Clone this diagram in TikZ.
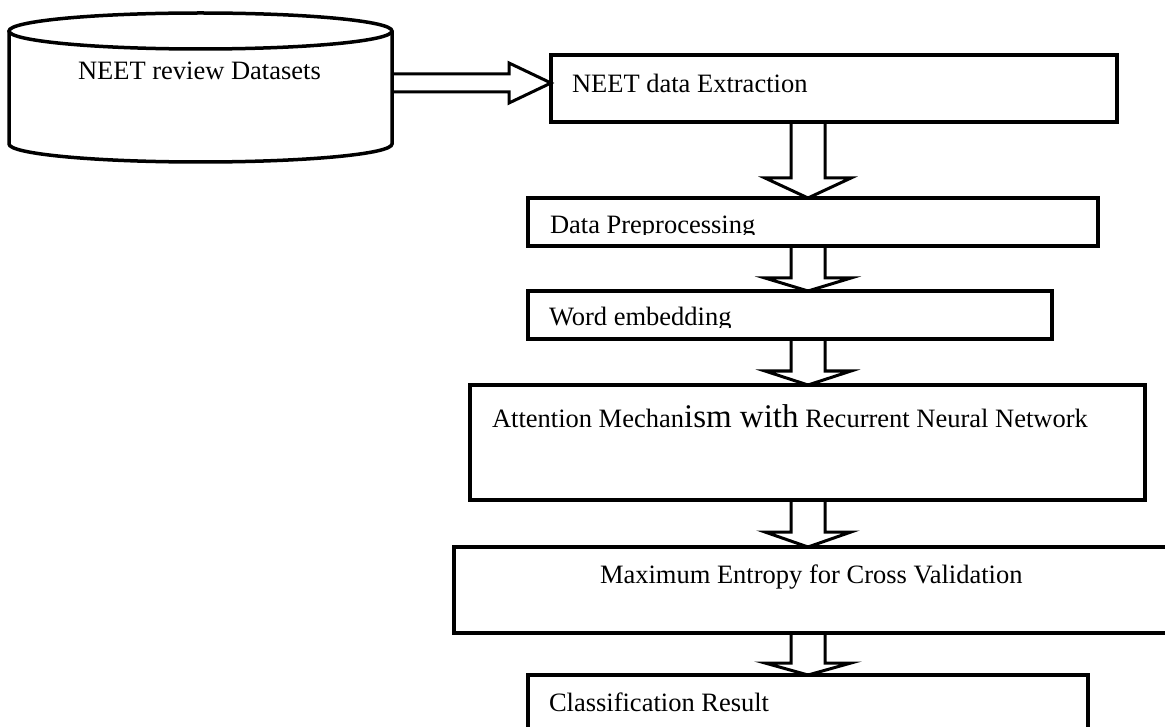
\documentclass[tikz,border=0pt]{standalone}
\usepackage{fontspec}
\setmainfont{Liberation Serif}
\usetikzlibrary{calc}
\tikzset{
  box/.style={draw, line width=3.5pt, inner sep=0pt, outer sep=0pt},
  cylline/.style={draw, line width=3.5pt},
  fatarr/.style={draw, line width=3pt, line join=miter},
  lbl/.style={anchor=base west, inner sep=0pt, outer sep=0pt, font=\fontsize{26.5}{30}\selectfont},
}
\newcommand\fatdown[3]{%
  \draw[fatarr] let \p1=(#1), \p2=(#2) in
    (\x1-17pt,\y1) -- (\x1-17pt,\y2+#3pt) -- (\x1-43pt,\y2+#3pt) -- (\x2,\y2)
    -- (\x1+43pt,\y2+#3pt) -- (\x1+17pt,\y2+#3pt) -- (\x1+17pt,\y1);}
\newcommand\fatright[3]{%
  \draw[fatarr] let \p1=(#1), \p2=(#2) in
    (\x1,\y1+9pt) -- (\x2-#3pt,\y1+9pt) -- (\x2-#3pt,\y1+20pt) -- (\x2,\y2)
    -- (\x2-#3pt,\y1-20pt) -- (\x2-#3pt,\y1-9pt) -- (\x1,\y1-9pt);}
\begin{document}
\begin{tikzpicture}[x=1pt,y=-1pt]
\clip (0,0) rectangle (1165,727);
\fill[white] (0,0) rectangle (1165,727);

% cylinder
\node[inner sep=0pt, outer sep=0pt, minimum width=383pt, minimum height=149pt] (cyl) at (200.5,87.5) {};
\draw[cylline] (9,31) -- (9,144) arc[start angle=180, end angle=360, x radius=191.5pt, y radius=18pt] -- (392,31);
\draw[cylline] (200.5,31) ellipse [x radius=191.5pt, y radius=18pt];
\node[lbl] (t0) at (78,80) {NEET review Datasets};

% boxes
\node[box, minimum width=566pt, minimum height=67pt] (b1) at (834,88.5) {};
\node[box, minimum width=570pt, minimum height=48pt] (b2) at (813,222) {};
\node[box, minimum width=524pt, minimum height=48pt] (b3) at (790,315) {};
\node[box, minimum width=675pt, minimum height=115pt] (b4) at (807.5,442.5) {};
\node[box, minimum width=731pt, minimum height=86pt] (b5) at (819.5,590) {};
\node[box, minimum width=560pt, minimum height=70pt] (b6) at (808,710) {};

% labels
\node[lbl] (t1) at (572,93) {NEET data Extraction};
\begin{scope}
  \clip (530,200) rectangle (1096,235);
  \node[lbl] (t2) at (550,233.5) {Data Preprocessing};
\end{scope}
\begin{scope}
  \clip (530,293) rectangle (1050,327.5);
  \node[lbl] (t3) at (549,326) {Word embedding};
\end{scope}
\node[lbl] (t4) at (492,427) {Attention Mechan{\fontsize{33}{36}\selectfont ism with} Recurrent Neural Network};
\node[lbl] (t5) at (600,583) {Maximum Entropy for Cross Validation};
\node[lbl] (t6) at (549,711) {Classification Result};

% connectors
\coordinate (ax) at (808,0);
\coordinate (ay) at (0,83);
\fatright{cyl.east |- ay}{b1.west |- ay}{42}
\fatdown{b1.south -| ax}{b2.north -| ax}{20}
\fatdown{b2.south -| ax}{b3.north -| ax}{13}
\fatdown{b3.south -| ax}{b4.north -| ax}{14}
\fatdown{b4.south -| ax}{b5.north -| ax}{15}
\fatdown{b5.south -| ax}{b6.north -| ax}{12}
\end{tikzpicture}
\end{document}
